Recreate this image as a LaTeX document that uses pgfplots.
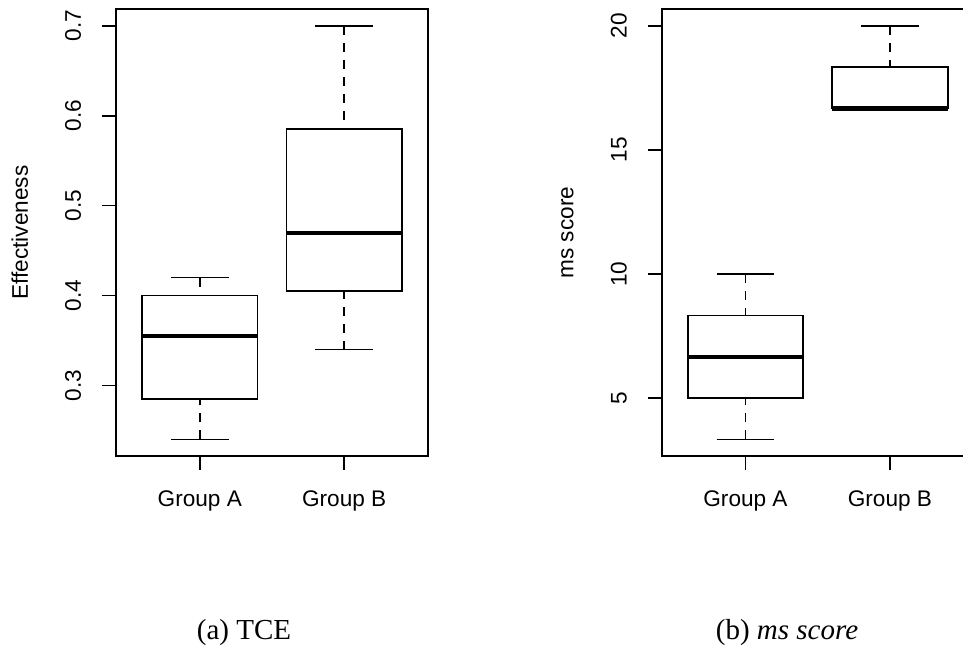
\documentclass[border=0pt]{standalone}
\usepackage{fontspec}
\setmainfont{Liberation Serif}
\newfontfamily\rsans{Liberation Sans}
\usepackage{pgfplots}
\pgfplotsset{compat=1.18}
\usepgfplotslibrary{statistics}

% R-style boxplot panel
\pgfplotsset{
  rbox/.style={
    scale only axis,
    width=156pt, height=223.35pt,
    xmin=0.42, xmax=2.58,
    xtick={1,2}, xticklabels={Group A, Group B},
    axis line style={line width=0.85pt},
    tick align=outside, major tick length=7pt,
    xtick pos=bottom, ytick pos=left,
    tick style={line width=0.8pt, black},
    font=\fontsize{11.3}{13}\rsans,
    /pgf/number format/assume math mode=true,
    yticklabel style={rotate=90, anchor=south, inner sep=0pt},
    yticklabel shift=10.2pt,
    xticklabel style={anchor=base, inner sep=0pt},
    xticklabel shift=18.3pt,
    every axis y label/.style={at={([xshift=-43.8pt]axis description cs:0,0.5)},
      rotate=90, anchor=south, inner sep=0pt},
    boxplot/draw direction=y,
    boxplot/box extend=0.8,
    boxplot/whisker extend=0.4,
    boxplot/every box/.style={draw=black, line width=0.8pt},
    boxplot/every median/.style={line width=2.1pt},
    boxplot/draw/lower whisker/.code={%
      \draw[line width=0.8pt, dash pattern=on 4.5pt off 4pt]
        (boxplot box cs:\pgfplotsboxplotvalue{lower whisker},0.5) --
        (boxplot box cs:\pgfplotsboxplotvalue{lower quartile},0.5);
      \draw[line width=0.8pt]
        (boxplot whisker cs:\pgfplotsboxplotvalue{lower whisker},0) --
        (boxplot whisker cs:\pgfplotsboxplotvalue{lower whisker},1);
    },
    boxplot/draw/upper whisker/.code={%
      \draw[line width=0.8pt, dash pattern=on 4.5pt off 4pt]
        (boxplot box cs:\pgfplotsboxplotvalue{upper whisker},0.5) --
        (boxplot box cs:\pgfplotsboxplotvalue{upper quartile},0.5);
      \draw[line width=0.8pt]
        (boxplot whisker cs:\pgfplotsboxplotvalue{upper whisker},0) --
        (boxplot whisker cs:\pgfplotsboxplotvalue{upper whisker},1);
    },
  }
}

\begin{document}
\begin{tikzpicture}
\useasboundingbox (0,0) rectangle (481.5pt,-323pt);
\clip (0,0) rectangle (481.5pt,-323pt);

% (a) TCE
\begin{axis}[rbox, at={(58pt,-4.65pt)}, anchor=north west,
  ymin=0.2216, ymax=0.7184, ytick={0.3,0.4,0.5,0.6,0.7},
  ylabel={Effectiveness}]
\addplot[black, boxplot prepared={draw position=1,
  lower whisker=0.24, lower quartile=0.285, median=0.355,
  upper quartile=0.40, upper whisker=0.42}] coordinates {};
\addplot[black, boxplot prepared={draw position=2,
  lower whisker=0.34, lower quartile=0.405, median=0.47,
  upper quartile=0.585, upper whisker=0.70}] coordinates {};
\end{axis}

% (b) ms score
\begin{axis}[rbox, at={(330.85pt,-4.65pt)}, anchor=north west,
  ymin=2.6667, ymax=20.6667, ytick={5,10,15,20},
  ylabel={ms score}]
\addplot[black, boxplot prepared={draw position=1,
  lower whisker=3.333, lower quartile=5, median=6.667,
  upper quartile=8.333, upper whisker=10}] coordinates {};
\addplot[black, boxplot prepared={draw position=2,
  lower whisker=16.667, lower quartile=16.667, median=16.667,
  upper quartile=18.333, upper whisker=20}] coordinates {};
\end{axis}

\node[anchor=base, inner sep=0pt, font=\fontsize{14.5}{17}\selectfont] at (122pt,-319.5pt) {(a) TCE};
\node[anchor=base, inner sep=0pt, font=\fontsize{14.5}{17}\selectfont] at (393.5pt,-319.5pt) {(b) \textit{ms score}};
\end{tikzpicture}
\end{document}
